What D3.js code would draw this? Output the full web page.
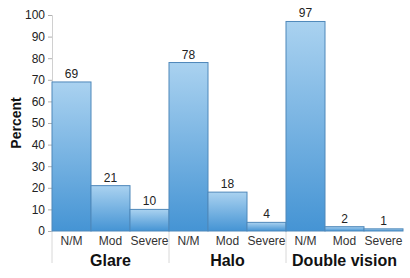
<!DOCTYPE html>
<html><head><meta charset="utf-8">
<script src="https://cdn.jsdelivr.net/npm/d3@7"></script>
<style>body{margin:0;background:#fff}svg{display:block}</style>
</head><body>
<script>
const groups = ["Glare", "Halo", "Double vision"];
const levels = ["N/M", "Mod", "Severe"];
const values = [
  [69, 21, 10],
  [78, 18, 4],
  [97, 2, 1]
];
const yTicks = [0,10,20,30,40,50,60,70,80,90,100];

const W = 410, H = 278;
const mLeft = 52, mRight = 403, mTop = 15, mBottom = 231;
const svg = d3.select("body").append("svg").attr("width", W).attr("height", H)
  .style("font-family", "Arial, 'Liberation Sans', sans-serif");

const defs = svg.append("defs");
const grad = defs.append("linearGradient").attr("id","bg").attr("x1",0).attr("y1",0).attr("x2",0).attr("y2",1);
grad.append("stop").attr("offset","0%").attr("stop-color","#aad2f0");
grad.append("stop").attr("offset","100%").attr("stop-color","#4594d4");

const flat = [];
groups.forEach((g,gi)=>levels.forEach((l,li)=>flat.push({g, l, key:g+"|"+l, v: values[gi][li]})));

const x = d3.scaleBand().domain(flat.map(d=>d.key)).range([mLeft,mRight]).padding(0);
const y = d3.scaleLinear().domain([0,100]).range([mBottom, mTop]);

// y axis
const yAxis = d3.axisLeft(y).tickValues(yTicks).tickSize(4).tickPadding(3);
const ya = svg.append("g").attr("transform",`translate(${mLeft},0)`).call(yAxis);
ya.select(".domain").attr("stroke","#d0d0d0");
ya.selectAll(".tick line").attr("stroke","#b0b0b0");
ya.selectAll(".tick text").attr("font-size",12).attr("fill","#222").attr("font-family","Arial, 'Liberation Sans', sans-serif");

// group separators
const sepX = groups.map((g)=>x(g+"|"+levels[0]));
svg.selectAll("line.sep").data(sepX).enter().append("line")
  .attr("x1",d=>d).attr("x2",d=>d).attr("y1",mBottom).attr("y2",263)
  .attr("stroke","#d8d8d8").attr("stroke-width",1);

// bars
svg.selectAll("rect.bar").data(flat).enter().append("rect")
  .attr("x",d=>x(d.key)).attr("width",x.bandwidth())
  .attr("y",d=>y(d.v)).attr("height",d=>mBottom-y(d.v))
  .attr("fill","url(#bg)").attr("stroke","#4f88ba").attr("stroke-width",1);

// value labels
svg.selectAll("text.val").data(flat).enter().append("text")
  .attr("x",d=>x(d.key)+x.bandwidth()/2).attr("y",d=>y(d.v)-4)
  .attr("text-anchor","middle").attr("font-size",12).attr("fill","#222").text(d=>d.v);

// category labels
svg.selectAll("text.cat").data(flat).enter().append("text")
  .attr("x",d=>x(d.key)+x.bandwidth()/2).attr("y",245)
  .attr("text-anchor","middle").attr("font-size",12).attr("fill","#333").text(d=>d.l);

// group labels
svg.selectAll("text.grp").data(groups).enter().append("text")
  .attr("x",(g)=>x(g+"|"+levels[1])+x.bandwidth()/2).attr("y",266)
  .attr("text-anchor","middle").attr("font-size",16).attr("font-weight","bold").attr("fill","#111").text(g=>g);

// y title
svg.append("text").attr("transform","translate(21,123) rotate(-90)")
  .attr("text-anchor","middle").attr("font-size",14).attr("font-weight","bold").attr("fill","#111").text("Percent");
</script>
</body></html>
